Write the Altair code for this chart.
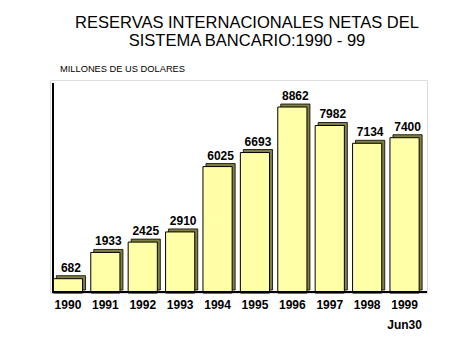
import altair as alt
import pandas as pd

years = ["1990", "1991", "1992", "1993", "1994", "1995", "1996", "1997", "1998", "1999"]
values = [682, 1933, 2425, 2910, 6025, 6693, 8862, 7982, 7134, 7400]
title_lines = ["RESERVAS INTERNACIONALES NETAS DEL", "SISTEMA BANCARIO:1990 - 99"]
unit_label = "MILLONES DE US DOLARES"

df = pd.DataFrame({"year": years, "value": values})

FONT = "Liberation Sans"
W, H = 377, 213

xsc = alt.Scale(domain=years, paddingInner=0.22, paddingOuter=0.15, align=0.3)
ysc = alt.Scale(domain=[0, 10150], nice=False, zero=True)

xenc = alt.X("year:N", scale=xsc, sort=years,
             axis=alt.Axis(title=None, labelAngle=0, ticks=False, domain=False,
                           labelFont=FONT, labelFontSize=12, labelFontWeight="bold",
                           labelColor="black", labelPadding=6, labelLineHeight=20,
                           labelExpr="datum.value == '1999' ? ['1999', 'Jun30'] : datum.value"))
yenc = alt.Y("value:Q", scale=ysc, axis=None)

base = alt.Chart(df)

shadow = base.mark_bar(color="#808040", stroke="black", strokeWidth=0.8,
                       xOffset=3, yOffset=-3).encode(x=xenc, y=yenc)
bars = base.mark_bar(color="#FFFFA8", stroke="black", strokeWidth=1).encode(x=xenc, y=yenc)
labels = base.mark_text(font=FONT, fontSize=12, fontWeight="bold", color="black",
                        baseline="alphabetic", dy=-7, dx=3).encode(
    x=xenc, y=yenc, text=alt.Text("value:Q", format="d"))

wall = base.mark_rule(color="black", strokeWidth=1).encode(
    x=alt.value(3), y=alt.value(3), y2=alt.value(H))
floor = base.mark_rule(color="black", strokeWidth=1).encode(
    x=alt.value(3), x2=alt.value(W), y=alt.value(H - 1))

t1 = alt.Chart(pd.DataFrame({"t": [title_lines[0]]})).mark_text(
    font=FONT, fontSize=16.5, color="black", align="center", baseline="alphabetic").encode(
    text="t:N", x=alt.value(197), y=alt.value(-52))
t2 = alt.Chart(pd.DataFrame({"t": [title_lines[1]]})).mark_text(
    font=FONT, fontSize=16.5, color="black", align="center", baseline="alphabetic").encode(
    text="t:N", x=alt.value(197), y=alt.value(-34))

sub = alt.Chart(pd.DataFrame({"t": [unit_label]})).mark_text(
    font=FONT, fontSize=9.3, color="black", align="left", baseline="alphabetic").encode(
    text="t:N", x=alt.value(10), y=alt.value(-8))

chart = alt.layer(wall, shadow, bars, floor, labels, t1, t2, sub).properties(
    width=W, height=H,
    autosize=alt.AutoSizeParams(type="none"),
    padding={"left": 50, "top": 80, "right": 49, "bottom": 63},
).configure_view(stroke="black", strokeWidth=1).configure(background="white")

chart.save("out.html", embed_options={"renderer": "svg", "actions": False})
